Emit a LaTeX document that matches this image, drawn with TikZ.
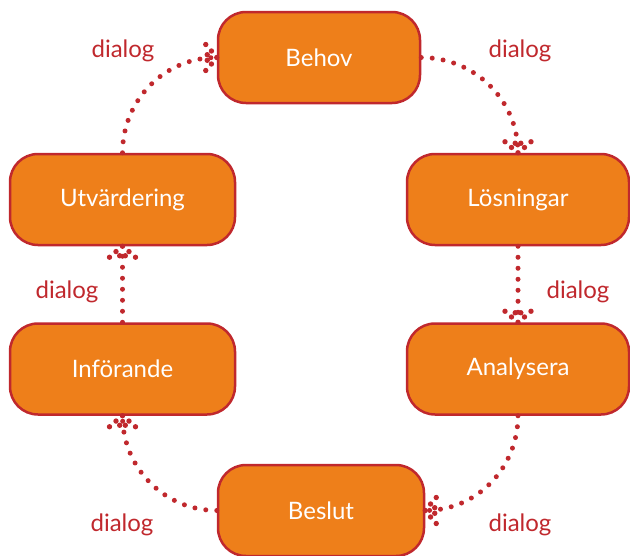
\documentclass[tikz,border=0pt]{standalone}
\usepackage{fontspec}
\setmainfont{Lato}
\usetikzlibrary{decorations.markings}
\definecolor{boxfill}{HTML}{EE7F1A}
\definecolor{dlgred}{HTML}{C0282D}
\begin{document}
\begin{tikzpicture}[line cap=round,line join=round,x=1pt,y=1pt,
  box/.style={draw=dlgred,line width=2.5pt,fill=boxfill,rounded corners=28pt,
    minimum height=91pt,inner sep=0pt,text=white,font=\fontsize{24}{28}\selectfont},
  lbl/.style={text=dlgred,anchor=base,font=\fontsize{24}{28}\selectfont},
  dothead/.style={decoration={markings,mark=at position 1 with {
    \foreach \p in {(0,0),(-5.3,6.5),(-5.3,-6.5),(-11,13),(-11,-13),(-9.5,2.8),(-9.5,-2.8)}
      \fill[dlgred] \p circle (2.7pt);}},postaction={decorate}},
  flow/.style={draw=dlgred,line width=5pt,dash pattern=on 0pt off 11pt,dothead}]
\useasboundingbox (0,0) rectangle (630,-555);
% boxes
\node[box,minimum width=202pt] (behov) at (319,-57.5) {Behov};
\node[box,minimum width=222pt] (losn) at (518,-199.5) {Lösningar};
\node[box,minimum width=222pt] (anal) at (518,-369) {Analysera};
\node[box,minimum width=206pt] (beslut) at (321,-510.5) {Beslut};
\node[box,minimum width=225pt] (inf) at (122.5,-369) {Införande};
\node[box,minimum width=225pt] (utv) at (122.5,-199.5) {Utvärdering};
% connectors
\draw[flow] (behov.east) to[out=0,in=90] (losn.north);
\draw[flow] (losn.south) -- (anal.north);
\draw[flow] (anal.south) to[out=-90,in=0] (beslut.east);
\draw[flow] (beslut.west) to[out=180,in=-90] (inf.south);
\draw[flow] (inf.north) -- (utv.south);
\draw[flow] (utv.north) to[out=90,in=180] (behov.west);
% labels
\node[lbl] (d1) at (123,-57) {dialog};
\node[lbl] (d2) at (520,-57) {dialog};
\node[lbl] (d3) at (67,-298) {dialog};
\node[lbl] (d4) at (578,-298) {dialog};
\node[lbl] (d5) at (122,-531) {dialog};
\node[lbl] (d6) at (520,-531) {dialog};
\end{tikzpicture}
\end{document}
